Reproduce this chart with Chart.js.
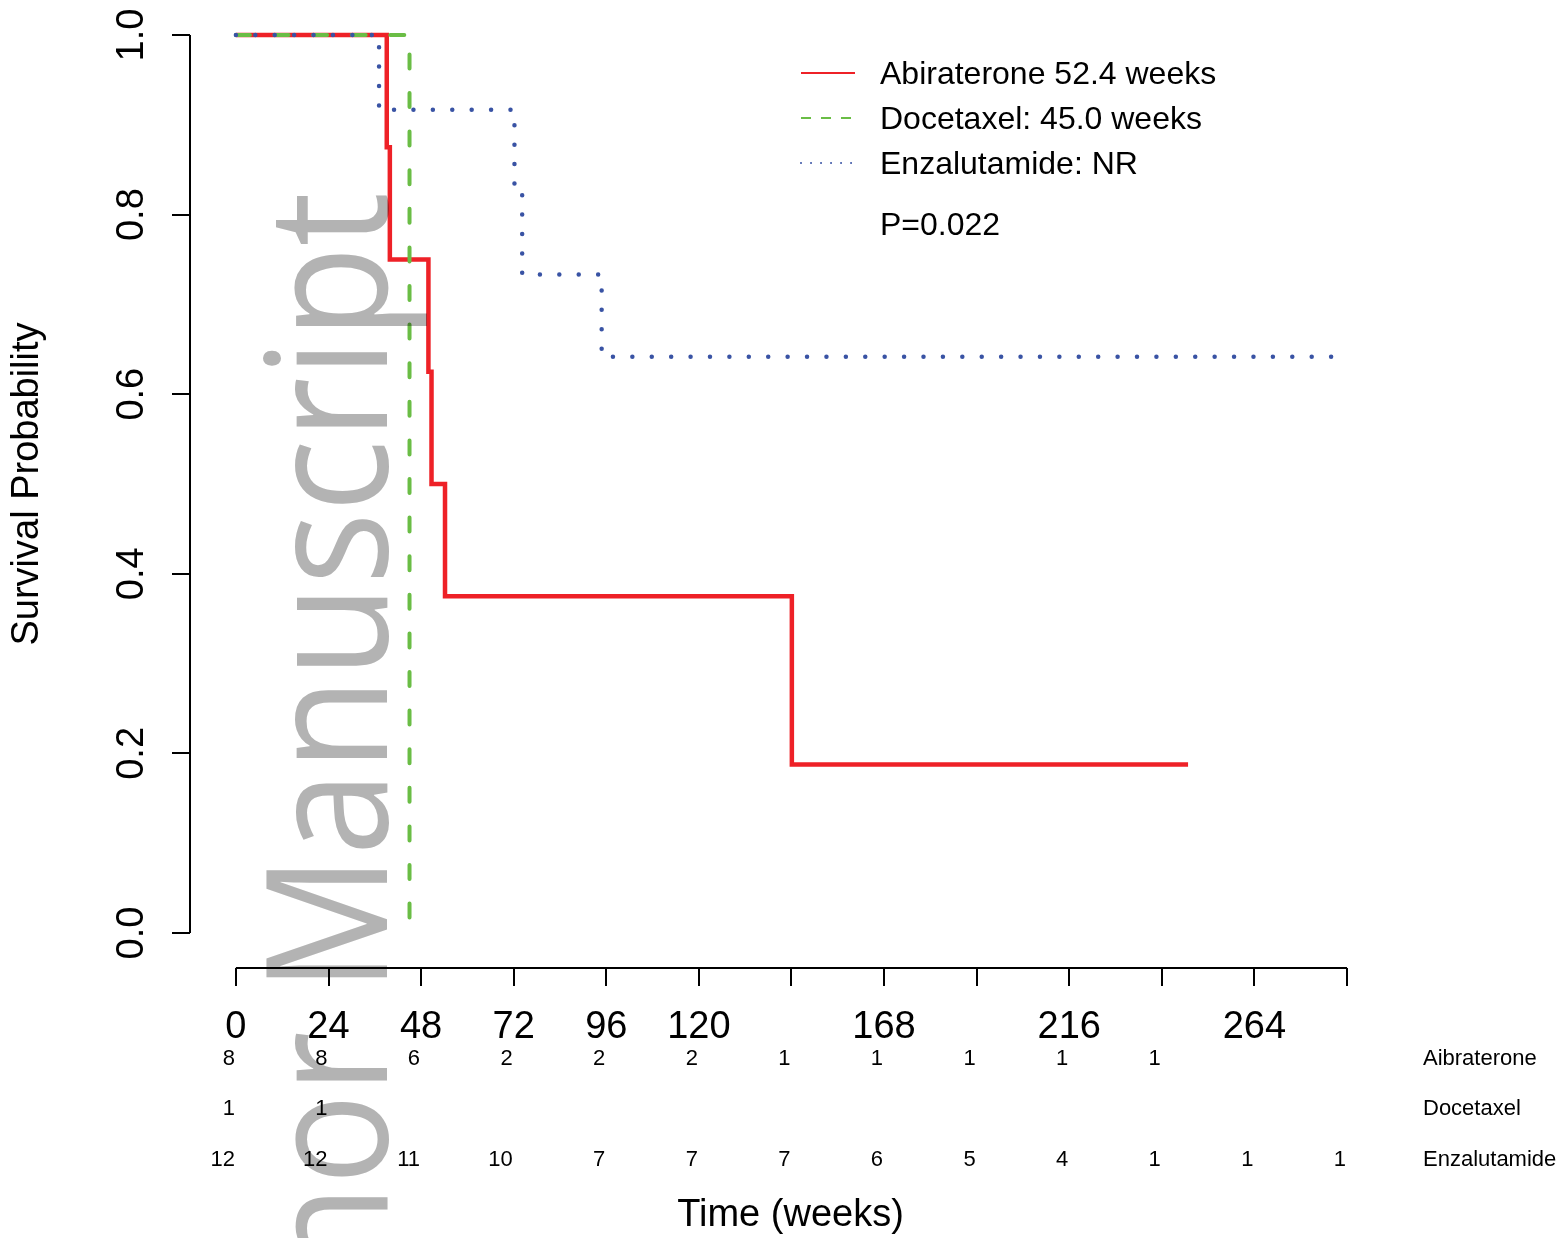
<!DOCTYPE html>
<html>
<head>
<meta charset="utf-8">
<title>Survival</title>
<script src="https://cdn.jsdelivr.net/npm/chart.js@4.4.0/dist/chart.umd.min.js"></script>
<style>
  html, body { margin: 0; padding: 0; background: #fff; }
  canvas { display: block; }
</style>
</head>
<body>
<canvas id="km" width="1562" height="1238"></canvas>
<script>
// Kaplan-Meier steps (time in weeks, survival probability)
const abiTime = [0, 39.1, 39.9, 49.9, 50.7, 54.2, 144.1, 246.8];
const abiSurv = [1, 0.875, 0.75, 0.625, 0.5, 0.375, 0.1875, 0.1875];
const docTime = [0, 45.0];
const docSurv = [1, 0];
const enzTime = [0, 37.1, 72.2, 74.2, 94.8, 285.4];
const enzSurv = [1, 0.9167, 0.825, 0.7333, 0.6417, 0.6417];

const seriesLabels = ["Abiraterone 52.4 weeks", "Docetaxel: 45.0 weeks", "Enzalutamide: NR"];
const pValueText = "P=0.022";

const xTicks = [0, 24, 48, 72, 96, 120, 144, 168, 192, 216, 240, 264, 288];
const xTickLabels = ["0", "24", "48", "72", "96", "120", "", "168", "", "216", "", "264", ""];
const yTicks = [0, 0.2, 0.4, 0.6, 0.8, 1.0];

// number at risk
const riskTimes = [0, 24, 48, 72, 96, 120, 144, 168, 192, 216, 240, 264, 288];
const riskAbi = [8, 8, 6, 2, 2, 2, 1, 1, 1, 1, 1];
const riskDoc = [1, 1];
const riskEnz = [12, 12, 11, 10, 7, 7, 7, 6, 5, 4, 1, 1, 1];
const riskNames = ["Aibraterone", "Docetaxel", "Enzalutamide"];

const FONT = "'Liberation Sans', Arial, Helvetica, sans-serif";
Chart.defaults.font.family = FONT;
Chart.defaults.color = "#000";

function pts(t, s) {
  return t.map((v, i) => ({ x: v, y: s[i] }));
}

const legendStyle = [
  { color: "#EE2127", dash: [], cap: "butt" },
  { color: "#6ABD45", dash: [10, 10], cap: "butt" },
  { color: "#3953A4", dash: [0.01, 10], cap: "round" },
];

const extras = {
  id: "kmExtras",
  beforeDraw(chart) {
    const ctx = chart.ctx;
    ctx.save();
    ctx.fillStyle = "#fff";
    ctx.fillRect(0, 0, chart.width, chart.height);
    ctx.restore();
  },
  afterDraw(chart) {
    const ctx = chart.ctx;
    const xs = chart.scales.x, ys = chart.scales.y;
    ctx.save();
    // axis lines (R style, from first to last tick)
    ctx.strokeStyle = "#000";
    ctx.lineWidth = 2;
    ctx.beginPath();
    ctx.moveTo(xs.getPixelForValue(xTicks[0]), xs.top);
    ctx.lineTo(xs.getPixelForValue(xTicks[xTicks.length - 1]), xs.top);
    ctx.moveTo(ys.right, ys.getPixelForValue(yTicks[0]));
    ctx.lineTo(ys.right, ys.getPixelForValue(yTicks[yTicks.length - 1]));
    ctx.stroke();

    // legend
    ctx.font = "32px " + FONT;
    ctx.textBaseline = "middle";
    ctx.textAlign = "left";
    const legY = [73, 118, 163];
    seriesLabels.forEach((lab, i) => {
      const st = legendStyle[i];
      ctx.strokeStyle = st.color;
      ctx.lineWidth = 2;
      ctx.setLineDash(st.dash);
      ctx.lineCap = st.cap;
      ctx.beginPath();
      ctx.moveTo(801, legY[i]);
      ctx.lineTo(855, legY[i]);
      ctx.stroke();
      ctx.setLineDash([]);
      ctx.fillStyle = "#000";
      ctx.fillText(lab, 880, legY[i] + 2);
    });
    ctx.fillText(pValueText, 880, 226);

    // number at risk table
    ctx.font = "22px " + FONT;
    const rows = [riskAbi, riskDoc, riskEnz];
    const rowY = [1059, 1109, 1160];
    rows.forEach((vals, r) => {
      ctx.textAlign = "right";
      vals.forEach((v, i) => {
        ctx.fillText(String(v), xs.getPixelForValue(riskTimes[i]) - 1, rowY[r]);
      });
      ctx.textAlign = "left";
      ctx.fillText(riskNames[r], 1423, rowY[r]);
    });

    // watermark
    ctx.globalCompositeOperation = "multiply";
    ctx.fillStyle = "#b3b3b3";
    ctx.font = "168px 'Open Sans', " + FONT;
    const w = ctx.measureText("Manuscript").width;
    ctx.translate(387, 192);
    ctx.rotate(-Math.PI / 2);
    ctx.scale(800 / w, 1);
    ctx.textAlign = "right";
    ctx.textBaseline = "alphabetic";
    ctx.fillText("Author Manuscript", 0, 0);
    ctx.restore();
  },
};

const config = {
  type: "scatter",
  data: {
    datasets: [
      {
        label: seriesLabels[0],
        data: pts(abiTime, abiSurv),
        showLine: true,
        stepped: true,
        borderColor: "#EE2127",
        borderWidth: 4.5,
        pointRadius: 0,
        order: 3,
      },
      {
        label: seriesLabels[1],
        data: pts(docTime, docSurv),
        showLine: true,
        stepped: true,
        borderColor: "#6ABD45",
        borderWidth: 4,
        borderDash: [14, 24.6],
        borderCapStyle: "round",
        pointRadius: 0,
        order: 2,
      },
      {
        label: seriesLabels[2],
        data: pts(enzTime, enzSurv),
        showLine: true,
        stepped: true,
        borderColor: "#3953A4",
        borderWidth: 4.5,
        borderDash: [0.01, 19.4],
        borderCapStyle: "round",
        pointRadius: 0,
        order: 1,
      },
    ],
  },
  options: {
    responsive: false,
    animation: false,
    devicePixelRatio: 1,
    clip: false,
    layout: { padding: { left: 0, right: 171, top: 0, bottom: 0 } },
    plugins: {
      legend: { display: false },
      tooltip: { enabled: false },
    },
    scales: {
      x: {
        type: "linear",
        position: "bottom",
        min: -11.9,
        max: 299.4,
        afterBuildTicks(scale) {
          scale.ticks = xTicks.map((v) => ({ value: v }));
        },
        afterFit(scale) {
          scale.height = 270;
          scale.paddingLeft = 0;
          scale.paddingRight = 0;
        },
        ticks: {
          autoSkip: false,
          maxRotation: 0,
          minRotation: 0,
          padding: 19,
          font: { size: 38 },
          color: "#000",
          callback: (v, i) => xTickLabels[i],
        },
        grid: { drawOnChartArea: false, drawTicks: true, tickLength: 18, color: "#000", lineWidth: 2 },
        border: { display: false },
        title: {
          display: true,
          text: "Time (weeks)",
          font: { size: 38 },
          color: "#000",
          padding: { top: 0, bottom: 0 },
        },
      },
      y: {
        type: "linear",
        position: "left",
        min: -0.039,
        max: 1.039,
        afterBuildTicks(scale) {
          scale.ticks = yTicks.map((v) => ({ value: v }));
        },
        afterFit(scale) {
          scale.width = 190;
          scale.paddingTop = 0;
          scale.paddingBottom = 0;
        },
        ticks: {
          autoSkip: false,
          minRotation: 90,
          maxRotation: 90,
          crossAlign: "center",
          padding: 12.6,
          font: { size: 38 },
          color: "#000",
          callback: (v) => Number(v).toFixed(1),
        },
        grid: { drawOnChartArea: false, drawTicks: true, tickLength: 18, color: "#000", lineWidth: 2 },
        border: { display: false },
        title: {
          display: true,
          text: "Survival Probability",
          font: { size: 38 },
          color: "#000",
          padding: { top: 5, bottom: 0 },
        },
      },
    },
  },
  plugins: [extras],
};

const myChart = new Chart(document.getElementById("km"), config);
</script>
</body>
</html>
